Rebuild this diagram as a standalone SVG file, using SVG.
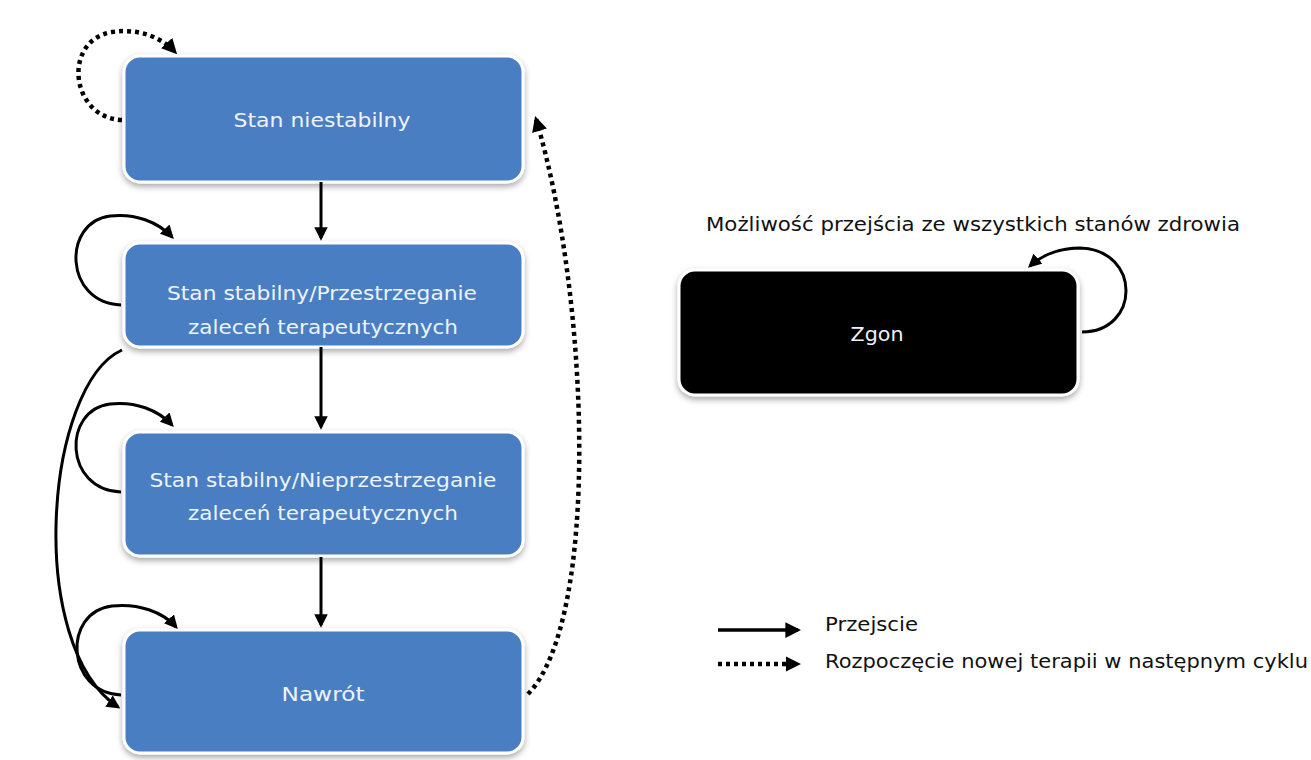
<svg xmlns="http://www.w3.org/2000/svg" width="1311" height="760" viewBox="0 0 1311 760">
<defs>
<filter id="sh" x="-10%" y="-10%" width="120%" height="130%">
<feDropShadow dx="0" dy="3" stdDeviation="3" flood-color="#000" flood-opacity="0.35"/>
</filter>
<marker id="ah" viewBox="0 0 10 10" refX="8" refY="5" markerWidth="4.5" markerHeight="4.5" orient="auto" markerUnits="strokeWidth">
<path d="M0,0 L10,5 L0,10 z" fill="#000"/>
</marker>
<marker id="ahd" viewBox="0 0 10 10" refX="8" refY="5" markerWidth="3.4" markerHeight="3.4" orient="auto" markerUnits="strokeWidth">
<path d="M0,0 L10,5 L0,10 z" fill="#000"/>
</marker>
<style>
.box{fill:#4a7ec2;stroke:#fff;stroke-width:3}
.dead{fill:#000;stroke:#fff;stroke-width:3}
.lbl{font-family:"DejaVu Sans","Noto Sans",sans-serif;font-size:20px;fill:#eef3fa;text-anchor:middle}
.txt{font-family:"DejaVu Sans","Noto Sans",sans-serif;font-size:19px;fill:#111}
.solid{fill:none;stroke:#000;stroke-width:3;marker-end:url(#ah)}
.dot{fill:none;stroke:#000;stroke-width:4.5;stroke-dasharray:4 4;marker-end:url(#ahd)}
</style>
</defs>
<rect width="1311" height="760" fill="#fff"/>
<g id="n1"><rect class="box" x="124" y="56" width="399" height="126" rx="16" filter="url(#sh)"/><text class="lbl" x="322" y="127" textLength="177" lengthAdjust="spacingAndGlyphs">Stan niestabilny</text></g>
<g id="n2"><rect class="box" x="124" y="243" width="399" height="104" rx="16" filter="url(#sh)"/><text class="lbl" x="322" y="300" textLength="310" lengthAdjust="spacingAndGlyphs">Stan stabilny/Przestrzeganie</text><text class="lbl" x="323" y="334" textLength="270" lengthAdjust="spacingAndGlyphs">zaleceń terapeutycznych</text></g>
<g id="n3"><rect class="box" x="124" y="432" width="399" height="124" rx="16" filter="url(#sh)"/><text class="lbl" x="323" y="487" textLength="347" lengthAdjust="spacingAndGlyphs">Stan stabilny/Nieprzestrzeganie</text><text class="lbl" x="323" y="520" textLength="270" lengthAdjust="spacingAndGlyphs">zaleceń terapeutycznych</text></g>
<g id="n4"><rect class="box" x="124" y="630" width="399" height="123" rx="16" filter="url(#sh)"/><text class="lbl" x="323" y="701" textLength="83" lengthAdjust="spacingAndGlyphs">Nawrót</text></g>
<g id="n5"><rect class="dead" x="679" y="270" width="399" height="125" rx="16" filter="url(#sh)"/><text class="lbl" x="877" y="341" textLength="53" lengthAdjust="spacingAndGlyphs">Zgon</text></g>
<g id="connectors">
<path class="solid" d="M321,182 V238"/>
<path class="solid" d="M321,347 V427"/>
<path class="solid" d="M321,557 V625"/>
<path class="dot" d="M122,120 C70,118 62,40 112,32 C140,28 162,38 175,52"/>
<path class="solid" d="M121,305 C64,303 62,222 110,216 C135,213 158,222 172,237"/>
<path class="solid" d="M121,492 C64,490 62,410 110,404 C135,401 158,410 172,425"/>
<path class="solid" d="M121,695 C66,693 62,612 112,606 C138,603 163,612 176,627"/>
<path class="solid" d="M122,350 C45,385 25,645 118,707"/>
<path class="dot" d="M528,694 C600,620 590,300 536,119"/>
<path class="solid" d="M1082,332 C1140,332 1142,250 1080,248 C1060,248 1042,255 1030,266"/>
<path class="solid" d="M718,630 H798" style="stroke-width:3.5"/>
<path class="dot" d="M718,664 H798"/>
</g>
<g id="labels">
<text class="txt" x="706" y="231" textLength="534" lengthAdjust="spacingAndGlyphs">Możliwość przejścia ze wszystkich stanów zdrowia</text>
<text class="txt" x="825" y="631" textLength="93" lengthAdjust="spacingAndGlyphs">Przejscie</text>
<text class="txt" x="825" y="668" textLength="483" lengthAdjust="spacingAndGlyphs">Rozpoczęcie nowej terapii w następnym cyklu</text>
</g>
</svg>
